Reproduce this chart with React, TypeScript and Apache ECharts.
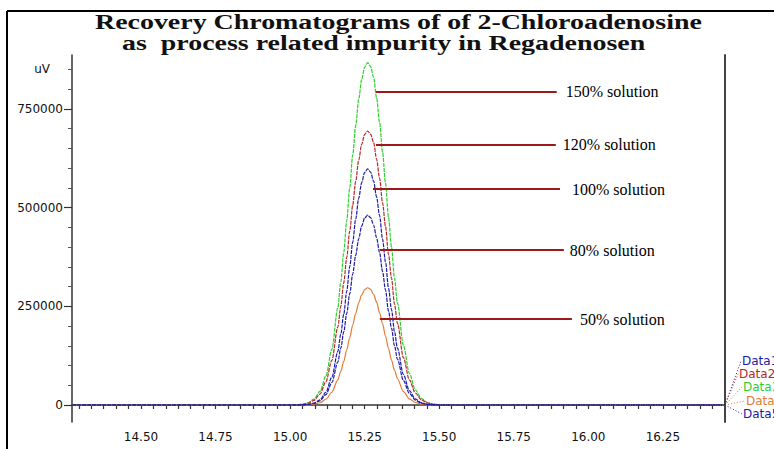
import React, { useEffect, useRef } from "react";
import * as echarts from "echarts";

// Retention times (min)
const times = [14.27, 14.98, 15.0, 15.02, 15.04, 15.06, 15.08, 15.1, 15.12, 15.14, 15.16, 15.17, 15.18, 15.19, 15.2, 15.21, 15.22, 15.23, 15.24, 15.25, 15.26, 15.27, 15.28, 15.29, 15.3, 15.31, 15.32, 15.33, 15.34, 15.35, 15.36, 15.38, 15.4, 15.42, 15.44, 15.46, 15.48, 15.5, 15.52, 15.54, 16.45];

// Detector response (uV)
const data1 = [0, 0, 0, 0, 400, 1600, 4800, 13300, 32500, 70600, 135100, 179400, 230800, 288800, 350400, 412600, 471200, 523300, 563300, 589000, 598000, 590000, 567000, 527000, 480000, 420000, 362000, 296000, 242000, 186000, 144000, 77000, 36500, 15500, 5800, 2000, 600, 100, 0, 0, 0];
const data2 = [0, 0, 0, 500, 1500, 4500, 11700, 27600, 58800, 113100, 197100, 249800, 310200, 374100, 440700, 506600, 567000, 619700, 660000, 685300, 694000, 686000, 665000, 623000, 575000, 512000, 452000, 381000, 322000, 256000, 207000, 120000, 63500, 30500, 13300, 5300, 1800, 600, 100, 0, 0];
const data3 = [0, 0, 0, 600, 1900, 5600, 14700, 34400, 73400, 141300, 246200, 312000, 387500, 467000, 550500, 633000, 708300, 774000, 824500, 856000, 867000, 857000, 830000, 778000, 716000, 640000, 562000, 476000, 400000, 322000, 258000, 151000, 80000, 38500, 17000, 6800, 2400, 800, 200, 0, 0];
const data4 = [0, 0, 0, 0, 150, 600, 2000, 5800, 14600, 32400, 63900, 85400, 110800, 139700, 170800, 202300, 232300, 258700, 279200, 292500, 297000, 293000, 280000, 261000, 234000, 206000, 174000, 143000, 114000, 88500, 66500, 34000, 15800, 6400, 2300, 700, 200, 0, 0, 0, 0];
const data5 = [0, 0, 0, 0, 300, 1300, 3900, 10700, 26100, 56800, 108700, 144300, 185700, 232300, 281900, 331900, 379000, 420900, 453100, 473800, 481000, 474500, 456000, 424000, 386000, 338000, 291000, 238000, 195000, 150000, 116000, 62000, 29500, 12400, 4600, 1600, 450, 100, 0, 0, 0];

const seriesNames = ["Data1", "Data2", "Data3", "Data4", "Data5"];
const seriesValues = [data1, data2, data3, data4, data5];

// Axis ticks
const yTickLabels = [0, 250000, 500000, 750000];
const yUnitTick = 850000;
const yUnitLabel = "uV";
const xTickLabels = [14.5, 14.75, 15.0, 15.25, 15.5, 15.75, 16.0, 16.25];

// Callouts
const calloutLabels = ["150% solution", "120% solution", "100% solution", "80% solution", "50% solution"];
const calloutLevels = [794000, 658600, 547100, 392600, 217800];
const calloutStart = [15.288, 15.288, 15.278, 15.301, 15.301];
const calloutEnd = [15.894, 15.891, 15.905, 15.918, 15.945];
const calloutSeries = [2, 1, 0, 4, 3];

const TITLE1 = "Recovery Chromatograms of of 2-Chloroadenosine";
const TITLE2 = "as  process related impurity in Regadenosen";

const X_MIN = 14.2687;
const X_MAX = 16.4583;
const Y_MIN = -43000;
const Y_MAX = 886500;

const COLORS = ["#1c1ca6", "#b52a2a", "#2fcf2f", "#e27a33", "#1c1ca6"];
const DASHES: any[] = [[4, 1], [4, 1], [4, 1], "solid", [4, 1]];
const CALLOUT_GAP = [9, 7, 12, 6, 8];
const DRAW_ORDER = [3, 2, 1, 4, 0];

export default function App() {
  const ref = useRef<HTMLDivElement>(null);
  useEffect(() => {
    if (!ref.current) return;
    const chart = echarts.init(ref.current, undefined, { renderer: "svg" });

    const xMinor: number[] = [];
    for (let i = -5; i <= 47; i++) {
      const v = 14.5 + i / 24;
      if (v >= X_MIN - 1e-6 && v <= X_MAX + 1e-6) xMinor.push(+v.toFixed(5));
    }
    const yMinor: number[] = [];
    for (let v = 50000; v <= 850000; v += 50000) {
      if (!yTickLabels.includes(v)) yMinor.push(v);
    }

    const series: any[] = DRAW_ORDER.map((si) => {
      const callouts = calloutSeries
        .map((s, ci) => (s === si ? ci : -1))
        .filter((ci) => ci >= 0);
      const s: any = {
        type: "line",
        name: seriesNames[si],
        data: times.map((t, i) => [t, seriesValues[si][i]]),
        showSymbol: false,
        smooth: 0.3,
        smoothMonotone: "x",
        lineStyle: { color: COLORS[si], width: 1.2, type: DASHES[si] },
        itemStyle: { color: COLORS[si] },
        emphasis: { disabled: true },
        silent: true,
      };
      if (callouts.length) {
        const ci = callouts[0];
        s.markLine = {
          silent: true,
          symbol: ["none", "none"],
          lineStyle: { color: "#9e1a1a", width: 2, type: "solid" },
          emphasis: { disabled: true },
          label: {
            show: true,
            position: "end",
            formatter: calloutLabels[ci],
            color: "#000",
            fontFamily: "Liberation Serif",
            fontSize: 16,
            distance: CALLOUT_GAP[ci],
          },
          data: [
            [
              { coord: [calloutStart[ci], calloutLevels[ci]] },
              { coord: [calloutEnd[ci], calloutLevels[ci]] },
            ],
          ],
        };
      }
      return s;
    });

    const legendTargets = [
      [741, 361],
      [738, 374],
      [742, 387],
      [745, 401],
      [742, 414],
    ];
    const origin = [725, 405];
    const legendGraphics: any[] = [];
    seriesNames.forEach((n, i) => {
      legendGraphics.push({
        type: "line",
        shape: { x1: origin[0], y1: origin[1], x2: legendTargets[i][0], y2: legendTargets[i][1] },
        style: { stroke: COLORS[i], lineWidth: 1, lineDash: [1, 2] },
        silent: true,
      });
      legendGraphics.push({
        type: "text",
        x: legendTargets[i][0] + 1,
        y: legendTargets[i][1],
        style: {
          text: n,
          fill: COLORS[i],
          font: '12px "DejaVu Sans"',
          textVerticalAlign: "middle",
          textAlign: "left",
        },
        silent: true,
      });
    });

    chart.setOption({
      animation: false,
      grid: { left: 72, right: 49, top: 55, bottom: 27, containLabel: false },
      xAxis: {
        type: "value",
        min: X_MIN,
        max: X_MAX,
        axisLine: { show: true, lineStyle: { color: "#333", width: 1.5 } },
        axisTick: { show: true, customValues: xMinor, length: 4, lineStyle: { color: "#333", width: 1.2 } },
        axisLabel: {
          customValues: xTickLabels,
          formatter: (v: number) => v.toFixed(2),
          color: "#111",
          fontFamily: "DejaVu Sans",
          fontSize: 12,
          margin: 9,
        },
        splitLine: { show: false },
      },
      yAxis: [
        {
          type: "value",
          position: "left",
          min: Y_MIN,
          max: Y_MAX,
          axisLine: { show: true, lineStyle: { color: "#333", width: 1.5 } },
          axisTick: { show: true, customValues: yTickLabels, length: 8, lineStyle: { color: "#333", width: 1.2 } },
          axisLabel: {
            customValues: [...yTickLabels, yUnitTick],
            formatter: (v: number) => (v === yUnitTick ? "{u|" + yUnitLabel + "}" : String(v)),
            color: "#111",
            fontFamily: "DejaVu Sans",
            fontSize: 12,
            margin: 9,
            rich: { u: { fontFamily: "DejaVu Sans", fontSize: 12, color: "#111", padding: [0, 13, 0, 0] } },
          },
          splitLine: { show: false },
        },
        {
          type: "value",
          position: "left",
          min: Y_MIN,
          max: Y_MAX,
          axisLine: { show: false },
          axisTick: { show: true, customValues: yMinor, length: 4, lineStyle: { color: "#555", width: 1 } },
          axisLabel: { show: false },
          splitLine: { show: false },
        },
        {
          type: "value",
          position: "right",
          min: Y_MIN,
          max: Y_MAX,
          axisLine: { show: true, lineStyle: { color: "#444", width: 2 } },
          axisTick: { show: false },
          axisLabel: { show: false },
          splitLine: { show: false },
        },
      ],
      series,
      graphic: [
        {
          type: "line",
          shape: { x1: 7, y1: 11, x2: 774, y2: 11 },
          style: { stroke: "#000", lineWidth: 2 },
          silent: true,
        },
        {
          type: "line",
          shape: { x1: 7, y1: 11, x2: 7, y2: 449 },
          style: { stroke: "#000", lineWidth: 2 },
          silent: true,
        },
        {
          type: "text",
          x: 95,
          y: 22,
          scaleX: 1.27,
          style: {
            text: TITLE1,
            fill: "#111",
            font: 'bold 22px "Liberation Serif"',
            textAlign: "left",
            textVerticalAlign: "middle",
          },
          silent: true,
        },
        {
          type: "text",
          x: 122,
          y: 43,
          scaleX: 1.27,
          style: {
            text: TITLE2,
            fill: "#111",
            font: 'bold 22px "Liberation Serif"',
            textAlign: "left",
            textVerticalAlign: "middle",
          },
          silent: true,
        },
        ...legendGraphics,
      ],
    });
    return () => chart.dispose();
  }, []);
  return (
    <div
      ref={ref}
      style={{ position: "absolute", left: 0, top: 0, width: 774, height: 449, background: "#fff" }}
    />
  );
}
